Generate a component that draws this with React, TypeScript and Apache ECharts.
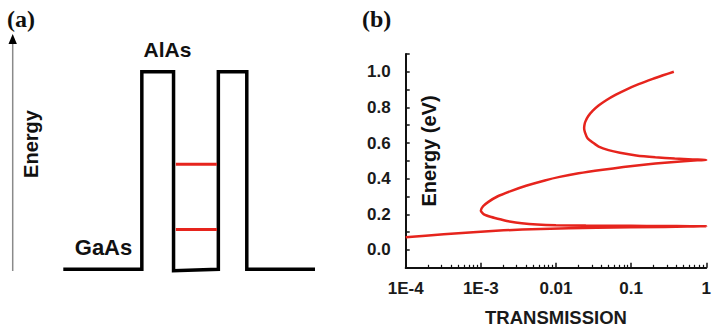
import React, { useEffect, useRef } from "react";
import * as echarts from "echarts";

// ---------- Panel (a): double-barrier schematic ----------
const profilePos = [0, 31.2, 31.2, 43.8, 43.8, 61.6, 61.6, 72.9, 72.9, 100];
const profileEnergy = [0, 0, 1, 1, -0.007, 0, 1, 1, 0, 0];
const levelEnergies = [0.202, 0.531];
const levelPos = [44.7, 61.0];

// ---------- Panel (b): transmission vs energy ----------
const energyEV = [
  0.072, 0.088, 0.1, 0.11, 0.118, 0.125, 0.129, 0.131, 0.133,
  0.134, 0.135, 0.136, 0.137, 0.139, 0.143, 0.15, 0.16, 0.17, 0.185,
  0.2, 0.22, 0.245, 0.27, 0.3, 0.33, 0.36, 0.39, 0.41, 0.43,
  0.45, 0.465, 0.48, 0.49, 0.498, 0.503, 0.505, 0.508, 0.513, 0.52,
  0.53, 0.545, 0.56, 0.58, 0.6, 0.627, 0.66, 0.683, 0.7, 0.72,
  0.75, 0.78, 0.81, 0.84, 0.87, 0.9, 0.93, 0.96, 0.98, 1.0,
];
const transmission = [
  1.0e-4, 3.2e-4, 7.9e-4, 2.0e-3, 6.3e-3, 0.035, 0.28, 0.56, 1.0,
  0.4, 0.16, 0.063, 0.025, 0.01, 5.6e-3, 3.5e-3, 2.4e-3, 1.9e-3, 1.38e-3,
  1.1e-3, 1.0e-3, 1.07e-3, 1.26e-3, 1.66e-3, 2.5e-3, 4.0e-3, 7.1e-3, 0.0112, 0.02,
  0.042, 0.079, 0.158, 0.28, 0.5, 0.76, 1.0, 0.66, 0.38, 0.21,
  0.117, 0.071, 0.05, 0.037, 0.0316, 0.0263, 0.0243, 0.0237, 0.0239, 0.0246,
  0.0268, 0.0307, 0.0369, 0.0466, 0.0618, 0.0861, 0.126, 0.194, 0.266, 0.37,
];
const xTickLabels = ["1E-4", "1E-3", "0.01", "0.1", "1"];
const yTickLabels = ["0.0", "0.2", "0.4", "0.6", "0.8", "1.0"];

const FONT = "'Liberation Sans', Arial, sans-serif";
const RED = "#e6241d";

export default function App() {
  const ref = useRef<HTMLDivElement>(null);

  useEffect(() => {
    if (!ref.current) return;
    const chart = echarts.init(ref.current, undefined, { renderer: "svg" });

    const minorTicks: number[] = [];
    for (let d = -4; d < 0; d++) {
      for (let k = 2; k <= 9; k++) minorTicks.push(d + Math.log10(k));
    }

    const curve = energyEV.map((e, i) => [Math.log10(transmission[i]), e]);

    const option: any = {
      animation: false,
      backgroundColor: "#ffffff",
      grid: [
        { left: 63.3, top: 51.94, width: 251.7, height: 227.24 },
        { left: 405.7, top: 53.9, width: 302, height: 213.9 },
      ],
      xAxis: [
        { gridIndex: 0, type: "value", min: 0, max: 100, show: false },
        {
          gridIndex: 1,
          type: "value",
          min: -4,
          max: 0,
          interval: 1,
          position: "bottom",
          axisLine: { show: true, onZero: false, lineStyle: { color: "#111", width: 2 } },
          axisTick: { show: true, inside: true, length: 5, lineStyle: { color: "#111", width: 1.5 } },
          axisLabel: {
            margin: 12,
            fontFamily: FONT,
            fontWeight: "bold",
            fontSize: 17,
            color: "#1a1a1a",
            formatter: (v: number) => xTickLabels[Math.round(v) + 4] ?? "",
          },
          splitLine: { show: false },
          name: "TRANSMISSION",
          nameLocation: "middle",
          nameGap: 40,
          nameTextStyle: { fontFamily: FONT, fontWeight: "bold", fontSize: 18.5, color: "#1a1a1a" },
        },
        {
          gridIndex: 1,
          type: "value",
          min: -4,
          max: 0,
          position: "bottom",
          axisLine: { show: false, onZero: false },
          axisTick: {
            show: true,
            inside: true,
            length: 3,
            customValues: minorTicks,
            lineStyle: { color: "#111", width: 1.2 },
          },
          axisLabel: { show: false },
          splitLine: { show: false },
        },
      ],
      yAxis: [
        { gridIndex: 0, type: "value", min: -0.05, max: 1.1, show: false },
        {
          gridIndex: 1,
          type: "value",
          min: -0.1,
          max: 1.1,
          interval: 0.1,
          axisLine: { show: true, onZero: false, lineStyle: { color: "#111", width: 2 } },
          axisTick: { show: true, inside: true, length: 4, lineStyle: { color: "#111", width: 1.5 } },
          axisLabel: {
            margin: 15,
            fontFamily: FONT,
            fontWeight: "bold",
            fontSize: 17,
            color: "#1a1a1a",
            formatter: (v: number) => {
              const t = Math.round(v * 10);
              if (t < 0 || t % 2 !== 0) return "";
              return yTickLabels[t / 2] ?? "";
            },
          },
          splitLine: { show: false },
        },
      ],
      series: [
        {
          type: "line",
          xAxisIndex: 0,
          yAxisIndex: 0,
          data: profilePos.map((p, i) => [p, profileEnergy[i]]),
          symbol: "none",
          lineStyle: { color: "#000", width: 3.5, join: "miter", cap: "butt" },
          silent: true,
        },
        ...levelEnergies.map((e) => ({
          type: "line",
          xAxisIndex: 0,
          yAxisIndex: 0,
          data: levelPos.map((p) => [p, e]),
          symbol: "none",
          lineStyle: { color: RED, width: 3 },
          silent: true,
        })),
        {
          type: "line",
          xAxisIndex: 1,
          yAxisIndex: 1,
          data: curve,
          symbol: "none",
          smooth: 0.2,
          clip: true,
          lineStyle: { color: RED, width: 2.5 },
          silent: true,
        },
      ],
      graphic: [
        {
          type: "text",
          x: 7,
          y: 19,
          style: { text: "(a)", font: "bold 24px 'Liberation Serif', serif", fill: "#111", verticalAlign: "middle" },
        },
        {
          type: "text",
          x: 362,
          y: 19,
          style: { text: "(b)", font: "bold 24px 'Liberation Serif', serif", fill: "#111", verticalAlign: "middle" },
        },
        {
          type: "line",
          shape: { x1: 12.7, y1: 271, x2: 12.7, y2: 42 },
          style: { stroke: "#8a8a8a", lineWidth: 1.5 },
        },
        {
          type: "polygon",
          shape: { points: [[12.7, 34], [8.5, 44], [16.9, 44]] },
          style: { fill: "#000" },
        },
        {
          type: "text",
          x: 31,
          y: 144,
          rotation: Math.PI / 2,
          style: { text: "Energy", font: `bold 20px ${FONT}`, fill: "#111", align: "center", verticalAlign: "middle" },
        },
        {
          type: "text",
          x: 167.5,
          y: 49.5,
          style: { text: "AlAs", font: `bold 21px ${FONT}`, fill: "#111", align: "center", verticalAlign: "middle" },
        },
        {
          type: "text",
          x: 103.5,
          y: 247.5,
          style: { text: "GaAs", font: `bold 22px ${FONT}`, fill: "#111", align: "center", verticalAlign: "middle" },
        },
        {
          type: "text",
          x: 429,
          y: 151,
          rotation: Math.PI / 2,
          style: { text: "Energy (eV)", font: `bold 20px ${FONT}`, fill: "#111", align: "center", verticalAlign: "middle" },
        },
      ],
    };

    chart.setOption(option);
    return () => chart.dispose();
  }, []);

  return (
    <div
      ref={ref}
      style={{ position: "fixed", left: 0, top: 0, width: 714, height: 332, background: "#fff" }}
    />
  );
}
